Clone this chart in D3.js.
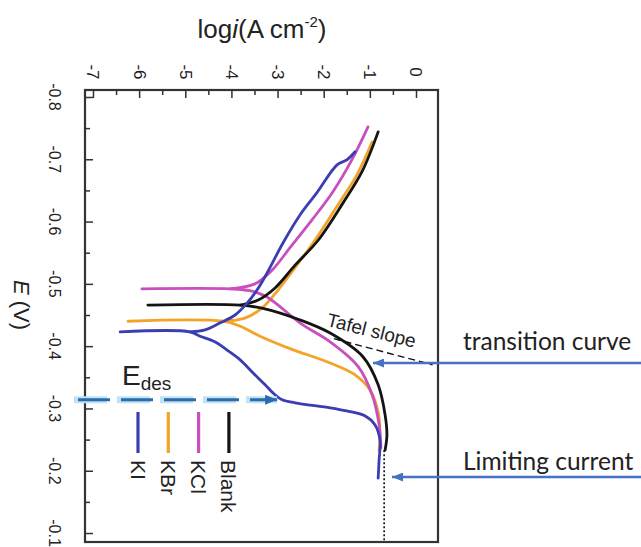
<!DOCTYPE html>
<html>
<head>
<meta charset="utf-8">
<script src="https://cdn.jsdelivr.net/npm/d3@7"></script>
<style>
  body { margin: 0; background: #fff; }
  text { font-family: "Liberation Sans", Arial, sans-serif; fill: #222; }
</style>
</head>
<body>
<div id="chart"></div>
<script>
// tick labels
const xTicks = [-7, -6, -5, -4, -3, -2, -1, 0];
const yTicks = [-0.8, -0.7, -0.6, -0.5, -0.4, -0.3, -0.2, -0.1];
const legendNames = ["KI", "KBr", "KCl", "Blank"];

// curves, [logi, E]
const kiCathodic = [[-6.41, -0.423], [-4.90, -0.423], [-4.68, -0.416], [-4.36, -0.407], [-4.10, -0.394],
  [-3.81, -0.378], [-3.53, -0.357], [-3.27, -0.338], [-3.10, -0.325], [-2.90, -0.314], [-2.62, -0.309],
  [-1.86, -0.301], [-1.50, -0.296], [-1.10, -0.288], [-0.89, -0.274], [-0.78, -0.249], [-0.80, -0.217], [-0.82, -0.188]];
const kiAnodic = [[-4.90, -0.423], [-4.57, -0.426], [-4.25, -0.437], [-3.92, -0.450], [-3.66, -0.469],
  [-3.42, -0.493], [-3.23, -0.517], [-2.88, -0.566], [-2.51, -0.611], [-2.15, -0.646], [-1.71, -0.691],
  [-1.50, -0.699], [-1.32, -0.712]];

const kbrCathodic = [[-6.24, -0.440], [-4.18, -0.440], [-3.81, -0.432], [-3.38, -0.416], [-2.73, -0.396],
  [-1.86, -0.373], [-1.32, -0.354], [-1.00, -0.330], [-0.82, -0.294], [-0.78, -0.257], [-0.80, -0.233]];
const kbrAnodic = [[-4.18, -0.440], [-3.71, -0.445], [-3.34, -0.461], [-2.99, -0.490], [-2.62, -0.526],
  [-2.19, -0.570], [-1.69, -0.627], [-1.28, -0.675], [-0.95, -0.728]];

const kclCathodic = [[-5.94, -0.492], [-4.03, -0.492], [-3.60, -0.489], [-3.23, -0.479], [-2.51, -0.437],
  [-1.86, -0.407], [-1.26, -0.368], [-0.95, -0.322], [-0.80, -0.274], [-0.76, -0.237]];
const kclAnodic = [[-4.03, -0.492], [-3.49, -0.500], [-3.12, -0.522], [-2.73, -0.558], [-2.25, -0.603],
  [-1.80, -0.648], [-1.39, -0.699], [-1.04, -0.752]];

const blankCathodic = [[-5.81, -0.466], [-3.81, -0.466], [-3.34, -0.461], [-2.51, -0.442], [-1.86, -0.421],
  [-1.15, -0.383], [-0.82, -0.338], [-0.67, -0.290], [-0.63, -0.257], [-0.67, -0.233]];
const blankAnodic = [[-3.81, -0.466], [-3.42, -0.474], [-3.06, -0.493], [-2.62, -0.530], [-2.12, -0.570],
  [-1.58, -0.630], [-1.17, -0.680], [-0.82, -0.744]];

// annotations
const limitLogi = -0.69;
const limitTopE = -0.233;
const edesE = -0.314;
const edesTipLogi = -3.01;
const tafelLine = [[-1.78, -0.412], [0.36, -0.370]];

// chart building
const svgWidth = 641;
const svgHeight = 547;

const margin = { top: 90, right: 203, bottom: 5, left: 85 };
const width = svgWidth - margin.left - margin.right;
const height = svgHeight - margin.top - margin.bottom;

const svg = d3.select("#chart")
  .append("svg")
  .attr("width", svgWidth)
  .attr("height", svgHeight);

const defs = svg.append("defs");
function addArrow(id, color, w, h) {
  defs.append("marker")
    .attr("id", id)
    .attr("viewBox", `0 0 ${w} ${h}`)
    .attr("refX", w).attr("refY", h / 2)
    .attr("markerWidth", w).attr("markerHeight", h)
    .attr("markerUnits", "userSpaceOnUse")
    .attr("orient", "auto")
    .append("path")
    .attr("d", `M0,0L${w},${h / 2}L0,${h}Z`)
    .attr("fill", color);
}
addArrow("arrBlue", "#4472c4", 11, 9);
addArrow("arrEdes", "#2e6aae", 12, 10);

const chartGroup = svg.append("g")
  .attr("transform", `translate(${margin.left}, ${margin.top})`);

// scales
const x = d3.scaleLinear().domain([-7.173, 0.477]).range([0, width]);
const y = d3.scaleLinear().domain([-0.8112, -0.0856]).range([0, height]);

// axes, ticks pointing inward
const xMinor = xTicks.slice(1).map(t => t - 0.5);
const yMinor = yTicks.slice(1).map(t => t - 0.05);

function tickGroup(axis) {
  const g = chartGroup.append("g").call(axis);
  g.select(".domain").remove();
  g.selectAll("line").attr("stroke", "#333").attr("stroke-width", 1.5);
  return g;
}
tickGroup(d3.axisTop(x).tickValues(xTicks).tickSize(-8).tickFormat(""));
tickGroup(d3.axisTop(x).tickValues(xMinor).tickSize(-5).tickFormat(""));
tickGroup(d3.axisLeft(y).tickValues(yTicks).tickSize(-8).tickFormat(""));
tickGroup(d3.axisLeft(y).tickValues(yMinor).tickSize(-5).tickFormat(""));

// rotated tick labels
chartGroup.selectAll(".xlab")
  .data(xTicks)
  .enter()
  .append("text")
  .attr("transform", d => `translate(${x(d)}, -18) rotate(90)`)
  .attr("text-anchor", "middle")
  .attr("dominant-baseline", "central")
  .attr("font-size", 17)
  .text(d => String(d));

chartGroup.selectAll(".ylab")
  .data(yTicks)
  .enter()
  .append("text")
  .attr("transform", d => `translate(-31, ${y(d)}) rotate(90)`)
  .attr("text-anchor", "middle")
  .attr("dominant-baseline", "central")
  .attr("font-size", 16)
  .text(d => d.toFixed(1));

// axis titles
const xTitle = svg.append("text")
  .attr("x", 262)
  .attr("y", 38)
  .attr("text-anchor", "middle")
  .attr("font-size", 26);
xTitle.append("tspan").text("log");
xTitle.append("tspan").attr("font-style", "italic").text("i");
xTitle.append("tspan").text("(A cm");
xTitle.append("tspan").attr("font-size", 15).attr("dy", -11).text("-2");
xTitle.append("tspan").attr("dy", 11).text(")");

const yTitle = svg.append("text")
  .attr("transform", "translate(22, 305) rotate(90)")
  .attr("text-anchor", "middle")
  .attr("dominant-baseline", "central")
  .attr("font-size", 22);
yTitle.append("tspan").attr("font-style", "italic").text("E");
yTitle.append("tspan").text(" (V)");

// curves
const series = [
  { name: "KBr", color: "#f3a326", branches: [kbrCathodic, kbrAnodic] },
  { name: "KCl", color: "#c94fbf", branches: [kclCathodic, kclAnodic] },
  { name: "Blank", color: "#141414", branches: [blankCathodic, blankAnodic] },
  { name: "KI", color: "#3b3db2", branches: [kiCathodic, kiAnodic] }
];

const line = d3.line()
  .x(d => x(d[0]))
  .y(d => y(d[1]))
  .curve(d3.curveCatmullRom.alpha(0.5));

series.forEach(s => {
  s.branches.forEach(b => {
    chartGroup.append("path")
      .attr("d", line(b))
      .attr("fill", "none")
      .attr("stroke", s.color)
      .attr("stroke-width", 2.8)
      .attr("stroke-linecap", "round");
  });
});

// limiting current dotted line
chartGroup.append("line")
  .attr("x1", x(limitLogi)).attr("x2", x(limitLogi))
  .attr("y1", y(limitTopE)).attr("y2", height)
  .attr("stroke", "#111")
  .attr("stroke-width", 1.6)
  .attr("stroke-dasharray", "2,2");

// tafel slope
chartGroup.append("path")
  .attr("d", d3.line().x(d => x(d[0])).y(d => y(d[1]))(tafelLine))
  .attr("stroke", "#111")
  .attr("stroke-width", 1.4)
  .attr("stroke-dasharray", "7,4")
  .attr("fill", "none");

chartGroup.append("text")
  .attr("transform", `translate(${x(-1.0)}, ${y(-0.415)}) rotate(14)`)
  .attr("text-anchor", "middle")
  .attr("font-size", 19)
  .text("Tafel slope");

// legend
const legendColors = ["#3b3db2", "#f3a326", "#c94fbf", "#141414"];
const legend = svg.append("g");
legendNames.forEach((name, i) => {
  const lx = 138 + i * 30.3;
  legend.append("line")
    .attr("x1", lx).attr("x2", lx)
    .attr("y1", 412).attr("y2", 453)
    .attr("stroke", legendColors[i])
    .attr("stroke-width", 3.2);
  legend.append("text")
    .attr("transform", `translate(${lx}, 460) rotate(90)`)
    .attr("dominant-baseline", "central")
    .attr("font-size", 21)
    .text(name);
});

// frame
chartGroup.append("rect")
  .attr("width", width)
  .attr("height", height)
  .attr("fill", "none")
  .attr("stroke", "#333")
  .attr("stroke-width", 2.2);

// E_des arrow
const edesY = margin.top + y(edesE);
const edesX2 = margin.left + x(edesTipLogi);
svg.append("line")
  .attr("x1", 74).attr("x2", edesX2)
  .attr("y1", edesY).attr("y2", edesY)
  .attr("stroke", "#bfe3f5")
  .attr("stroke-width", 7)
  .attr("stroke-dasharray", "33,10");
svg.append("line")
  .attr("x1", 78).attr("x2", edesX2)
  .attr("y1", edesY).attr("y2", edesY)
  .attr("stroke", "#2e6aae")
  .attr("stroke-width", 3)
  .attr("stroke-dasharray", "32,11")
  .attr("marker-end", "url(#arrEdes)");

const edes = svg.append("text")
  .attr("x", 122)
  .attr("y", 385)
  .attr("font-size", 28);
edes.append("tspan").text("E");
edes.append("tspan").attr("font-size", 19).attr("dy", 5).text("des");

// right side callouts
const callouts = [
  { label: "transition curve", y: 363, tip: 373, ty: 340 },
  { label: "Limiting current", y: 477, tip: 392, ty: 460 }
];
callouts.forEach(c => {
  svg.append("line")
    .attr("x1", 641).attr("x2", c.tip)
    .attr("y1", c.y).attr("y2", c.y)
    .attr("stroke", "#4472c4")
    .attr("stroke-width", 2.5)
    .attr("marker-end", "url(#arrBlue)");
  svg.append("text")
    .attr("x", 463)
    .attr("y", c.ty)
    .attr("dominant-baseline", "central")
    .style("font-family", "Lato, 'Open Sans', sans-serif")
    .attr("font-size", 24.5)
    .text(c.label);
});
</script>
</body>
</html>
